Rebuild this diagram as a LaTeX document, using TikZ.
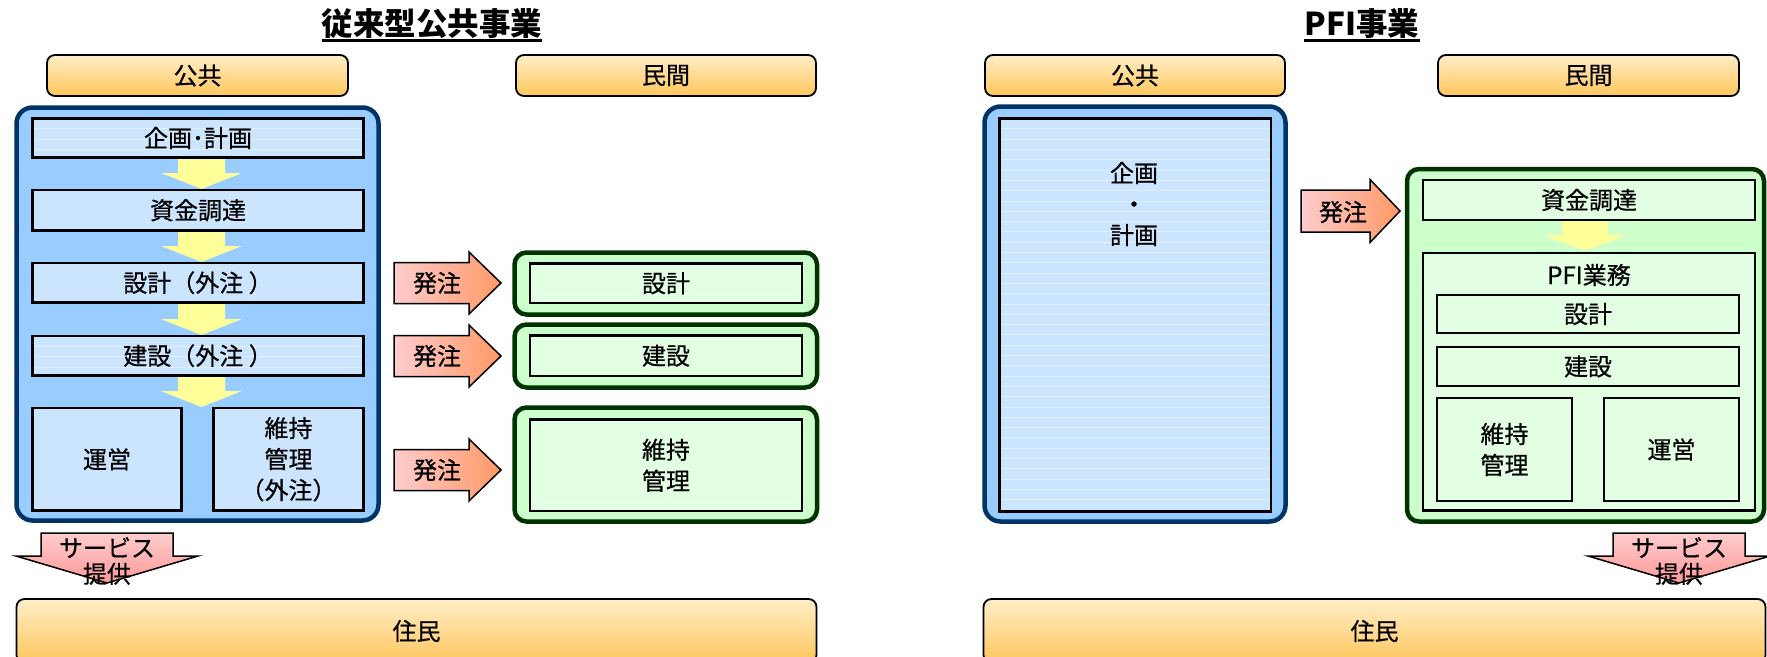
\documentclass[tikz,border=0pt]{standalone}
\usepackage{fontspec}
\setmainfont{Noto Sans CJK JP}
\newfontfamily\bodyfont{Noto Sans CJK JP}[FakeBold=0.6]
\usetikzlibrary{calc}
\definecolor{hdrT}{HTML}{FFEEC8}
\definecolor{hdrB}{HTML}{FFC65C}
\definecolor{navy}{HTML}{003366}
\definecolor{bluO}{HTML}{99CCFF}
\definecolor{bluI}{HTML}{CCE5FF}
\definecolor{dgreen}{HTML}{003300}
\definecolor{grnO}{HTML}{CCFFCC}
\definecolor{grnI}{HTML}{E3FFE3}
\definecolor{yel}{HTML}{FFFF99}
\definecolor{pinkL}{HTML}{FFCCCC}
\definecolor{orng}{HTML}{FF9966}
\definecolor{pinkD}{HTML}{FF9999}
\newcommand\dfont{\bodyfont\fontsize{24pt}{31pt}\selectfont}
\newcommand\sfontx{\bodyfont\fontsize{24pt}{26pt}\selectfont}
\newcommand\tfont{\fontsize{31.5pt}{36pt}\selectfont\bfseries}
\newcommand\boxnode[7]{%
  \pgfmathsetmacro\mybw{#5-#3}\pgfmathsetmacro\mybh{#6-#4}%
  \node[#1, minimum width=\mybw pt, minimum height=\mybh pt] (#2) at ({(#3+#5)/2},{(#4+#6)/2}) {#7};}
% yellow down arrow: cx, y0, yhead, ytip, halfshaft, halfhead
\newcommand\yarr[6]{%
  \fill[yel] ({#1-#5},#2) -- ({#1+#5},#2) -- ({#1+#5},#3) -- ({#1+#6},#3) -- (#1,#4)
    -- ({#1-#6},#3) -- ({#1-#5},#3) -- cycle;}
% order arrow (right): x0, xhead, xtip, cy, halfbody, halfhead
\newcommand\parr[6]{%
  \draw[parrow] (#1,{#4-#5}) -- (#2,{#4-#5}) -- (#2,{#4-#6}) -- (#3,#4) -- (#2,{#4+#6})
    -- (#2,{#4+#5}) -- (#1,{#4+#5}) -- cycle;}
% service arrow (down): cx, y0, yhead, ytip, halfbody, halfhead
\newcommand\sarr[6]{%
  \draw[sarrow] ({#1-#5},#2) -- ({#1+#5},#2) -- ({#1+#5},#3) -- ({#1+#6},#3) -- (#1,#4)
    -- ({#1-#6},#3) -- ({#1-#5},#3) -- cycle;}
\begin{document}
\begin{tikzpicture}[x=1pt,y=-1pt,
  hdr/.style={draw=black, line width=1.8pt, rounded corners=8pt, top color=hdrT, bottom color=hdrB, inner sep=0pt, font=\dfont},
  bluout/.style={draw=navy, line width=4.5pt, fill=bluO, rounded corners=16pt, inner sep=0pt},
  bluin/.style={draw=black, line width=2.5pt, fill=bluI, inner sep=0pt, align=center, font=\dfont},
  stripes/.style={path picture={\foreach \k in {1,...,45}{\draw[white, opacity=0.45, line width=0.7pt] ([yshift=-\k*10.3pt]path picture bounding box.north west) -- ([yshift=-\k*10.3pt]path picture bounding box.north east);}}},
  grnout/.style={draw=dgreen, line width=4.5pt, fill=grnO, rounded corners=12pt, inner sep=0pt},
  grnin/.style={draw=black, line width=2.5pt, fill=grnI, inner sep=0pt, align=center, font=\dfont},
  parrow/.style={draw=black, line width=1.5pt, left color=pinkL, right color=orng},
  sarrow/.style={draw=black, line width=1.5pt, top color=pinkL, bottom color=pinkD},
  lbl/.style={inner sep=0pt, align=center, font=\dfont},
  slbl/.style={inner sep=0pt, align=center, font=\sfontx},
  ttl/.style={inner sep=0pt, font=\tfont}]
\useasboundingbox (0,0) rectangle (1767,656);
\clip (0,0) rectangle (1767,656);
\fill[white] (0,0) rectangle (1767,656);

% ---------- titles ----------
\node[ttl] (title1) at (432,24) {従来型公共事業};
\node[ttl] (title2) at (1362,24) {PFI事業};
\coordinate (ul) at (0,40.5);
\draw[line width=2.4pt] (title1.west |- ul) -- (title1.east |- ul);
\draw[line width=2.4pt] (title2.west |- ul) -- (title2.east |- ul);

% ---------- headers ----------
\boxnode{hdr}{pubL}{47}{55}{348}{96}{公共}
\boxnode{hdr}{prvL}{516}{55}{816}{96}{民間}
\boxnode{hdr}{pubR}{985}{55}{1285}{96}{公共}
\boxnode{hdr}{prvR}{1438}{55}{1739}{96}{民間}
\node[hdr, minimum width=800pt, minimum height=64pt] (resL) at (416.5,631) {住民};
\node[hdr, minimum width=782pt, minimum height=64pt] (resR) at (1374.5,631) {住民};

% ---------- left: conventional ----------
\boxnode{bluout}{pubBoxL}{16.5}{107.5}{378.5}{520.5}{}
\yarr{201.5}{157.5}{173}{189}{23.5}{40.5}
\yarr{201.5}{230.5}{246}{262}{23.5}{40.5}
\yarr{201.5}{302.5}{319}{335}{23.5}{40.5}
\yarr{201.5}{375.5}{391}{407}{23.5}{40.5}
\boxnode{bluin,stripes}{kikakuL}{32.5}{118.5}{363.5}{157.5}{企画･計画}
\boxnode{bluin}{shikinL}{32.5}{190}{363.5}{230.5}{資金調達}
\boxnode{bluin}{sekkeiL}{32.5}{263}{363.5}{302.5}{設計（外注 ）}
\boxnode{bluin,stripes}{kensetsuL}{32.5}{336}{363.5}{375.5}{建設（外注 ）}
\boxnode{bluin}{uneiL}{32.5}{408}{181.5}{510.5}{運営}
\boxnode{bluin}{ijiL}{213.5}{408}{363.5}{510.5}{維持\\管理\\（外注）}

\parr{394}{469}{501}{283}{20.5}{31}
\parr{394}{469}{501}{356}{20.5}{31}
\parr{394}{469}{501}{470}{20.5}{31}
\node[lbl] (ord1) at (437,283) {発注};
\node[lbl] (ord2) at (437,356) {発注};
\node[lbl] (ord3) at (437,470) {発注};

\boxnode{grnout}{gSekkei}{514.5}{252.5}{817}{314.5}{}
\boxnode{grnout}{gKensetsu}{514.5}{324.5}{817}{387.5}{}
\boxnode{grnout}{gIji}{514.5}{407.5}{817}{521.5}{}
\boxnode{grnin}{sekkeiP}{530}{263.5}{802}{303}{設計}
\boxnode{grnin}{kensetsuP}{530}{335.5}{802}{376}{建設}
\boxnode{grnin}{ijiP}{530}{419.5}{802}{511}{維持\\管理}

\sarr{107}{533}{556}{583}{66}{91}
\node[slbl] (svcL) at (107,561) {サービス\\提供};

% ---------- right: PFI ----------
\boxnode{bluout}{pubBoxR}{984.5}{106.5}{1285.5}{521.5}{}
\boxnode{bluin,stripes}{kikakuR}{999.5}{118.5}{1271}{511.5}{}
\node[lbl] (kikakuRt) at (1134,204) {企画\\・\\計画};

\parr{1301}{1370}{1400}{211}{21}{31.5}
\node[lbl] (ord4) at (1343,212) {発注};

\boxnode{grnout}{gPFI}{1407}{169}{1764}{521.5}{}
\yarr{1585}{220}{235}{251}{23}{41.5}
\boxnode{grnin}{shikinR}{1423}{180}{1755}{220}{資金調達}
\boxnode{grnin}{pfiBox}{1423}{253}{1755}{510.5}{}
\node[lbl] (pfiT) at (1589,275) {PFI業務};
\boxnode{grnin}{sekkeiR}{1437}{295}{1739}{333}{設計}
\boxnode{grnin}{kensetsuR}{1437}{347}{1739}{386}{建設}
\boxnode{grnin}{ijiR}{1437}{398}{1572}{501}{維持\\管理}
\boxnode{grnin}{uneiR}{1604}{398}{1739}{501}{運営}

\sarr{1679}{533}{556}{583}{66}{91}
\node[slbl] (svcR) at (1679,561) {サービス\\提供};
\end{tikzpicture}
\end{document}
